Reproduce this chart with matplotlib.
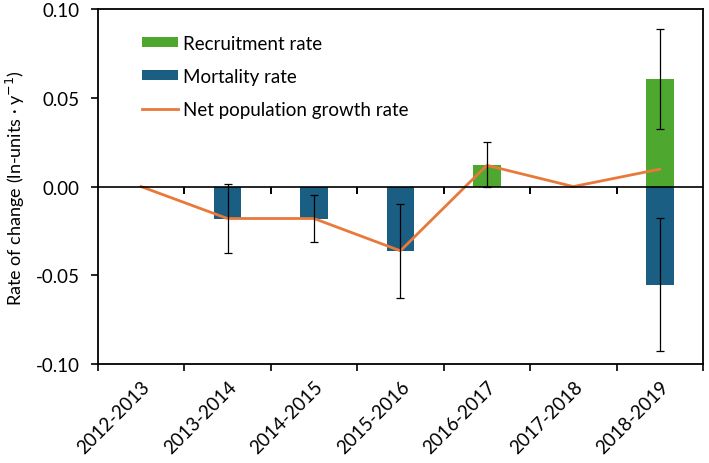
import numpy as np
import matplotlib
matplotlib.use('Agg')
import matplotlib.pyplot as plt

plt.rcParams['font.family'] = ['Lato', 'DejaVu Sans']

periods = ['2012-2013', '2013-2014', '2014-2015', '2015-2016', '2016-2017', '2017-2018', '2018-2019']
recruitment = [np.nan, np.nan, np.nan, np.nan, 0.0124, np.nan, 0.0605]
recruitment_err = [np.nan, np.nan, np.nan, np.nan, 0.0128, np.nan, 0.0282]
mortality = [np.nan, -0.0180, -0.0180, -0.0363, np.nan, np.nan, -0.0552]
mortality_err = [np.nan, 0.0192, 0.0133, 0.0265, np.nan, np.nan, 0.0375]
net_growth = [0.0, -0.0180, -0.0180, -0.0362, 0.0120, 0.0, 0.0098]

green = '#4EA72E'
blue = '#1B5E83'
orange = '#E8793A'

x = np.arange(len(periods))
edges = np.arange(len(periods) + 1) - 0.5
fig = plt.figure(figsize=(7.09, 4.64), dpi=100)
ax = fig.add_axes([0.138, 0.2134, 0.8535, 0.7647])

w = 0.32
b1 = ax.bar(x, recruitment, w, color=green, label='Recruitment rate', zorder=2)
b2 = ax.bar(x, mortality, w, color=blue, label='Mortality rate', zorder=2)
ax.errorbar(x, recruitment, yerr=recruitment_err, fmt='none', ecolor='black',
            elinewidth=0.9, capsize=3, capthick=0.9, zorder=4)
ax.errorbar(x, mortality, yerr=mortality_err, fmt='none', ecolor='black',
            elinewidth=0.9, capsize=3, capthick=0.9, zorder=4)
l1, = ax.plot(x, net_growth, color=orange, lw=2, label='Net population growth rate', zorder=3)

# zero line with small downward ticks at category edges
ax.axhline(0, color='black', lw=1.2, zorder=3)
ax.vlines(edges[1:-1], 0.478, 0.5, transform=ax.get_xaxis_transform(), colors='black',
          linewidths=1.4, zorder=6)

ax.set_xlim(-0.5, len(periods) - 0.5)
ax.set_ylim(-0.1, 0.1)
ax.set_yticks([0.10, 0.05, 0.00, -0.05, -0.10])
ax.set_yticklabels(['0.10', '0.05', '0.00', '-0.05', '-0.10'])
ax.set_ylabel('Rate of change (ln-units · y$^{-1}$)', fontsize=13, labelpad=6)

# category boundaries as ticks, labels at category centres
ax.set_xticks(edges)
ax.set_xticklabels([])
ax.set_xticks(x, minor=True)
ax.set_xticklabels(periods, minor=True, rotation=45, ha='right', rotation_mode='anchor')
ax.tick_params(axis='x', which='minor', length=0, pad=10, labelsize=13.5)
ax.tick_params(axis='x', which='major', direction='out', length=5, width=1.2)
ax.tick_params(axis='y', direction='out', length=5, width=1.2, labelsize=13.5, pad=8)

for s in ax.spines.values():
    s.set_linewidth(1.3)

ax.legend([b1, b2, l1], ['Recruitment rate', 'Mortality rate', 'Net population growth rate'],
          loc='upper left', bbox_to_anchor=(0.045, 0.975), frameon=False, fontsize=13.5,
          handlelength=1.9, handleheight=0.45, handletextpad=0.3, labelspacing=0.85)

fig.savefig('out.png', dpi=100)
